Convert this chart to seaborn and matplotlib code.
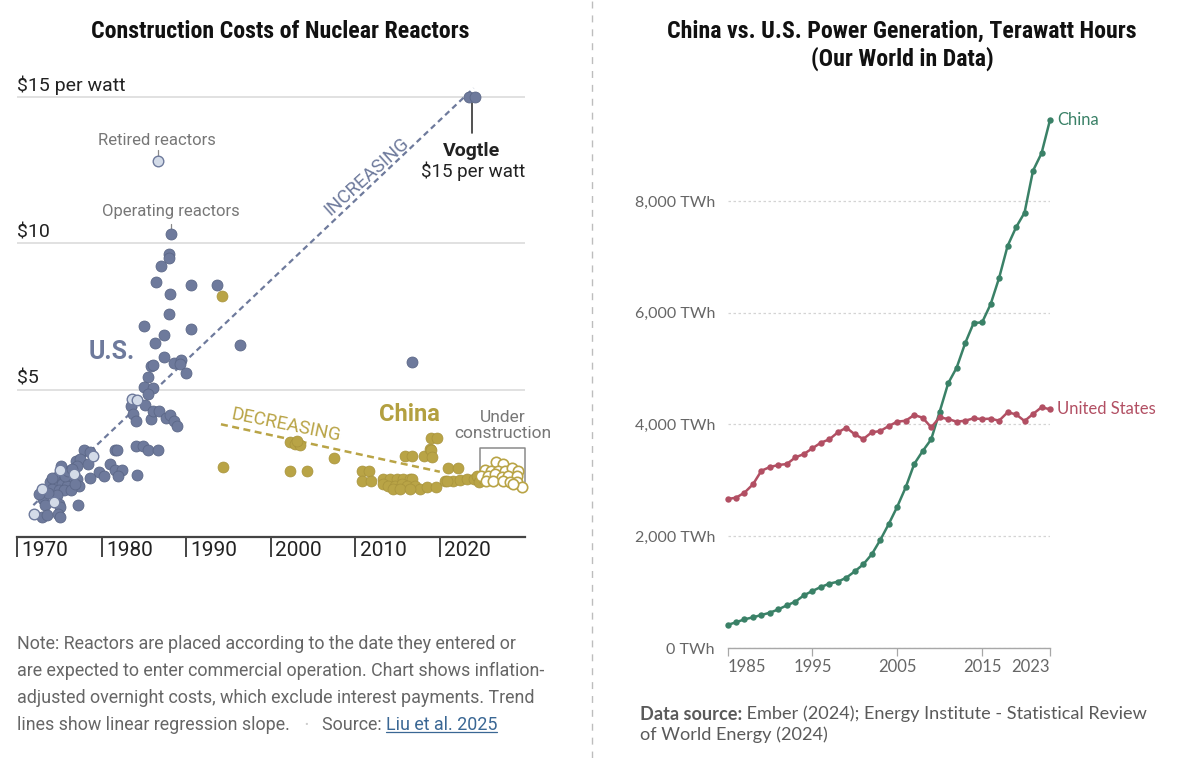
import matplotlib
matplotlib.use("Agg")
import matplotlib.pyplot as plt
import matplotlib.transforms as mtransforms
from matplotlib.lines import Line2D
import numpy as np
import pandas as pd
import seaborn as sns

# ---------------- data: left chart (construction cost, $ per watt) ----------------
us_operating_year = [1988.2, 1987.9, 1987.9, 1987.0, 1986.4, 1990.6, 1993.6, 1988.1, 1987.9, 1985.0,
                     1990.6, 1987.4, 1986.3, 1996.3, 1987.4, 1988.6, 1989.4, 1989.2, 1990.0, 1985.8,
                     1986.1, 1985.5, 1985.0, 1986.1, 1985.5, 2016.7,
                     1983.4, 1985.1, 1983.7, 1984.1, 1985.8, 1986.1, 1986.8, 1987.6, 1988.1, 1988.6,
                     1988.9, 1977.9, 1978.6, 1981.6, 1981.8, 1984.0, 1984.9, 1985.5, 1986.6, 1976.9,
                     1977.4, 1978.4, 1977.1, 1981.0, 1981.6, 1982.4, 1979.7, 1980.3, 1981.9, 1984.2,
                     1978.6, 1974.7, 1975.5, 1975.9, 1976.3, 1973.9, 1974.5, 1975.3, 1975.9, 1977.1,
                     1977.3, 1974.1, 1974.9, 1975.5, 1976.3, 1974.7, 1973.1, 1973.3, 1974.9, 1975.1,
                     1977.2, 1972.9, 1973.5, 1974.8, 1975.0, 1975.6, 1976.0, 1976.5, 1973.6, 1974.1,
                     1976.8, 1975.2, 1972.6, 2023.5, 2024.2]
us_operating_cost = [10.33, 9.65, 9.50, 9.23, 8.68, 8.59, 8.59, 8.27, 7.61, 7.20,
                     7.08, 6.86, 6.62, 6.52, 6.14, 5.93, 6.04, 5.89, 5.57, 5.81,
                     5.85, 5.46, 5.10, 5.08, 4.87, 5.97,
                     4.47, 4.49, 4.19, 3.94, 4.02, 4.30, 4.30, 4.04, 4.13, 3.94,
                     3.76, 2.96, 2.88, 2.96, 2.94, 3.08, 3.08, 2.96, 2.96, 2.59,
                     2.65, 2.46, 2.42, 2.46, 2.28, 2.28, 2.19, 2.08, 2.05, 2.11,
                     2.00, 2.02, 1.97, 1.91, 1.91, 1.85, 1.74, 1.80, 1.74, 1.97,
                     1.74, 1.63, 1.57, 1.57, 1.57, 1.40, 1.29, 1.06, 1.12, 1.00,
                     1.09, 0.68, 0.72, 0.77, 0.68, 2.08, 2.25, 2.32, 1.47, 1.98,
                     1.80, 2.40, 1.45, 15.0, 15.0]
us_retired_year = [1986.6, 1983.6, 1984.2, 1979.0, 1975.1, 1976.7, 1972.9, 1974.3, 1972.0]
us_retired_cost = [12.83, 4.70, 4.67, 2.76, 2.28, 2.14, 1.63, 1.17, 0.77]

china_operating_year = [1994.2, 1994.3, 2002.3, 2002.9, 2003.5, 2003.1, 2002.3, 2004.3, 2007.5, 2010.8,
                        2011.6, 2010.8, 2011.9, 2015.9, 2016.7, 2018.1, 2018.8, 2018.9, 2019.1, 2018.9,
                        2019.7, 2021.0, 2022.2,
                        2013.3, 2014.1, 2014.9, 2015.7, 2016.5, 2016.7,
                        2013.3, 2013.9, 2014.7, 2015.5, 2016.1, 2017.1,
                        2017.7, 2018.5, 2019.6, 2014.5, 2015.3, 2016.5,
                        2020.6, 2021.6, 2022.4, 2023.2, 2024.0, 2024.4, 2024.6, 2025.2, 2020.8]
china_operating_cost = [8.21, 2.37, 3.22, 3.16, 3.11, 3.25, 2.23, 2.23, 2.69, 2.25,
                        2.25, 1.89, 1.89, 2.74, 2.74, 2.76, 2.99, 2.94, 2.73, 3.37,
                        3.37, 2.34, 2.34,
                        1.97, 1.97, 1.97, 1.97, 1.97, 1.97,
                        1.80, 1.74, 1.74, 1.80, 1.74, 1.74,
                        1.63, 1.68, 1.69, 1.63, 1.63, 1.63,
                        1.91, 1.91, 1.94, 1.97, 1.95, 2.08, 1.85, 1.97, 1.91]
china_construction_year = [2026.7, 2027.5, 2025.3, 2026.1, 2026.9, 2027.7, 2028.6, 2029.3, 2024.9, 2025.7,
                           2026.5, 2027.3, 2028.1, 2029.1, 2025.5, 2026.3, 2027.5, 2028.3, 2029.1, 2029.7,
                           2028.7]
china_construction_cost = [2.54, 2.48, 2.28, 2.25, 2.25, 2.25, 2.33, 2.25, 2.08, 2.08,
                           2.14, 2.03, 2.08, 2.08, 1.91, 1.88, 1.91, 1.85, 1.85, 1.68,
                           1.80]
us_trend_year = [1971.9, 2024.0]
us_trend_cost = [1.07, 15.30]
china_trend_year = [1994.1, 2020.0]
china_trend_cost = [3.83, 2.21]
cost_ticks = [5, 10, 15]
cost_tick_labels = ["$5", "$10", "$15 per watt"]
decade_ticks = [1970, 1980, 1990, 2000, 2010, 2020]
decade_labels = ["1970", "1980", "1990", "2000", "2010", "2020"]

# ---------------- data: right chart (generation, TWh) ----------------
gen_years = list(range(1985, 2024))
china_twh = [412, 460, 513, 549, 591, 632, 692, 764, 829, 943, 1020, 1092, 1151, 1187, 1258,
             1372, 1497, 1677, 1933, 2219, 2529, 2876, 3293, 3525, 3734, 4229, 4737, 5016, 5453,
             5816, 5828, 6151, 6621, 7194, 7529, 7791, 8542, 8853, 9449]
us_twh = [2666, 2690, 2780, 2929, 3173, 3239, 3275, 3293, 3412, 3471, 3574, 3674, 3734, 3860, 3943,
          3824, 3740, 3860, 3883, 3973, 4050, 4068, 4170, 4121, 3949, 4128, 4098, 4050, 4068,
          4110, 4098, 4104, 4068, 4218, 4182, 4062, 4188, 4308, 4272]
gen_ticks = [0, 2000, 4000, 6000, 8000]
gen_tick_labels = ["0 TWh", "2,000 TWh", "4,000 TWh", "6,000 TWh", "8,000 TWh"]
year_ticks = [1985, 1995, 2005, 2015, 2023]
year_tick_labels = ["1985", "1995", "2005", "2015", "2023"]

# ---------------- styling ----------------
US_C = "#6e7a9c"
US_EDGE = "#5c6888"
US_RET = "#d3dbe8"
CN_C = "#b9a446"
CN_EDGE = "#a8933c"
GREEN = "#3a8167"
RED = "#b24f63"
NYT = ["Roboto", "DejaVu Sans"]
OWID = ["Lato", "DejaVu Sans"]
TITLE = ["Liberation Sans Narrow", "Roboto Condensed", "Roboto", "DejaVu Sans"]

sns.set_theme(style="white")
plt.rcParams["font.family"] = NYT

W, H = 1180, 758
fig = plt.figure(figsize=(W / 100, H / 100), dpi=100)


def px_rect(x0, x1, ytop, ybot):
    return [x0 / W, 1 - ybot / H, (x1 - x0) / W, (ybot - ytop) / H]


# ======================= LEFT CHART =======================
ax1 = fig.add_axes(px_rect(17.3, 525, 79.4, 536.5))
ax1.set_xlim(1970, 2030.08)
ax1.set_ylim(0, 15.6)
for s in ["top", "right", "left"]:
    ax1.spines[s].set_visible(False)
ax1.spines["bottom"].set_color("#444")
ax1.spines["bottom"].set_linewidth(1.6)
ax1.set_yticks(cost_ticks)
ax1.set_yticklabels([])
ax1.tick_params(axis="y", length=0)
ax1.yaxis.grid(True, color="#dedede", lw=1.3)
ax1.set_axisbelow(True)

ax1.set_xticks(decade_ticks)
ax1.set_xticklabels(decade_labels)
ax1.tick_params(axis="x", bottom=True, direction="out", length=14.4, width=1.4, color="#444",
                pad=-11.3, labelsize=15, labelcolor="#222")
off = mtransforms.ScaledTranslation(4.5 / 100, 0, fig.dpi_scale_trans)
for lab in ax1.get_xticklabels():
    lab.set_horizontalalignment("left")
    lab.set_transform(lab.get_transform() + off)

ytrans = mtransforms.blended_transform_factory(ax1.transAxes, ax1.transData)
for v, lab in zip(cost_ticks, cost_tick_labels):
    ax1.annotate(lab, xy=(0, v), xycoords=ytrans, xytext=(0, 4.5), textcoords="offset points",
                 ha="left", va="baseline", fontsize=14, color="#222")

# trend lines
ax1.plot(us_trend_year, us_trend_cost, color=US_C, lw=1.6, ls=(0, (2.6, 1.8)), zorder=2)
ax1.plot(china_trend_year, china_trend_cost, color=CN_C, lw=1.8, ls=(0, (2.8, 1.8)), zorder=2)

# scatter groups
sns.scatterplot(x=us_operating_year, y=us_operating_cost, ax=ax1, s=62, color=US_C,
                edgecolor=US_EDGE, linewidth=0.6, zorder=3, clip_on=False, legend=False)
sns.scatterplot(x=us_retired_year, y=us_retired_cost, ax=ax1, s=58, color=US_RET,
                edgecolor=US_C, linewidth=1.0, zorder=4, clip_on=False, legend=False)
sns.scatterplot(x=china_operating_year, y=china_operating_cost, ax=ax1, s=62, color=CN_C,
                edgecolor=CN_EDGE, linewidth=0.5, zorder=3, clip_on=False, legend=False)
sns.scatterplot(x=china_construction_year, y=china_construction_cost, ax=ax1, s=56, color="white",
                edgecolor=CN_C, linewidth=1.2, zorder=4, clip_on=False, legend=False)

# under construction bracket
bx0, bx1, by0, by1 = 2024.8, 2030.1, 1.87, 3.03
ax1.plot([bx0, bx0, bx1, bx1], [by0, by1, by1, by0], color="#8a8a8a", lw=1.1, zorder=2,
         clip_on=False)

# annotations
ax1.text(1981.2, 6.29, "U.S.", color=US_C, fontsize=18, fontweight="bold", ha="center", va="center")
ax1.text(2016.4, 4.18, "China", color="#b3a040", fontsize=17, fontweight="bold", ha="center",
         va="center")
ax1.text(2027.4, 3.79, "Under\nconstruction", color="#777", fontsize=12.5, ha="center",
         va="center", linespacing=1.05, clip_on=False)
ax1.text(1986.5, 13.53, "Retired reactors", color="#777", fontsize=12, ha="center", va="center")
ax1.plot([1986.6, 1986.6], [13.19, 12.98], color="#888", lw=0.9)
ax1.text(1988.2, 11.08, "Operating reactors", color="#777", fontsize=12, ha="center", va="center")
ax1.plot([1988.2, 1988.2], [10.68, 10.50], color="#888", lw=0.9)
ax1.plot([2023.85, 2023.85], [14.80, 13.77], color="#333", lw=1.2)
ax1.text(2023.8, 13.15, "Vogtle", color="#222", fontsize=14, fontweight="bold", ha="center",
         va="center", clip_on=False)
ax1.text(2023.9, 12.45, "$15 per watt", color="#222", fontsize=13.5, ha="center", va="center",
         clip_on=False)
ax1.text(2011.4, 12.30, "INCREASING", color=US_C, fontsize=13.5, rotation=42, ha="center",
         va="center", rotation_mode="anchor")
ax1.text(2001.8, 3.79, "DECREASING", color=CN_C, fontsize=13.5, rotation=-11.5, ha="center",
         va="center", rotation_mode="anchor")

# ======================= RIGHT CHART =======================
ax2 = fig.add_axes(px_rect(727.5, 1050, 106, 648))
gen = pd.DataFrame({
    "year": gen_years * 2,
    "twh": china_twh + us_twh,
    "country": ["China"] * len(gen_years) + ["United States"] * len(gen_years),
})
sns.lineplot(data=gen, x="year", y="twh", hue="country",
             palette={"China": GREEN, "United States": RED}, marker="o", markersize=4.6,
             markeredgewidth=0, linewidth=1.8, legend=False, ax=ax2, clip_on=False)
ax2.set_xlim(1985, 2023)
ax2.set_ylim(0, 9700)
ax2.set_xlabel("")
ax2.set_ylabel("")
for s in ["top", "right", "left"]:
    ax2.spines[s].set_visible(False)
ax2.spines["bottom"].set_color("#a8a8a8")
ax2.spines["bottom"].set_linewidth(1.0)
ax2.set_yticks(gen_ticks)
ax2.set_yticklabels(gen_tick_labels, fontfamily=OWID)
ax2.tick_params(axis="y", length=0, pad=9, labelsize=11.5, labelcolor="#666")
ax2.yaxis.grid(True, color="#d4d4d4", lw=0.9, ls=(0, (2, 2)))
ax2.set_axisbelow(True)
ax2.set_xticks(year_ticks)
ax2.set_xticklabels(year_tick_labels, fontfamily=OWID)
ax2.tick_params(axis="x", bottom=True, direction="out", length=5.5, width=0.9, color="#a8a8a8",
                pad=2.5, labelsize=12, labelcolor="#666")
xl = ax2.get_xticklabels()
xl[0].set_horizontalalignment("left")
xl[-1].set_horizontalalignment("right")

ax2.annotate("China", xy=(gen_years[-1], china_twh[-1]), xytext=(5, 0), textcoords="offset points",
             va="center", ha="left", color=GREEN, fontsize=12, fontfamily=OWID,
             annotation_clip=False)
ax2.annotate("United States", xy=(gen_years[-1], us_twh[-1]), xytext=(5, 0),
             textcoords="offset points", va="center", ha="left", color=RED, fontsize=12,
             fontfamily=OWID, annotation_clip=False)

# ======================= TITLES / NOTES =======================
fig.text(280 / W, 1 - 31 / H, "Construction Costs of Nuclear Reactors", ha="center", va="center",
         fontsize=17.2, fontweight="bold", family=TITLE, color="#111")
fig.text(902 / W, 1 - 31 / H, "China vs. U.S. Power Generation, Terawatt Hours", ha="center",
         va="center", fontsize=17.2, fontweight="bold", family=TITLE, color="#111")
fig.text(902 / W, 1 - 59 / H, "(Our World in Data)", ha="center", va="center", fontsize=17.2,
         fontweight="bold", family=TITLE, color="#111")

fig.add_artist(Line2D([592 / W, 592 / W], [0, 1], transform=fig.transFigure, color="#bdbdbd",
                      lw=1.0, ls=(0, (5, 5))))

NOTE_FS = 12.9
note_lines = ["Note: Reactors are placed according to the date they entered or",
              "are expected to enter commercial operation. Chart shows inflation-",
              "adjusted overnight costs, which exclude interest payments. Trend"]
for i, line in enumerate(note_lines):
    fig.text(17 / W, 1 - (644 + 27 * i) / H, line, ha="left", va="center", fontsize=NOTE_FS,
             color="#666")
t4 = fig.text(17 / W, 1 - 725 / H, "lines show linear regression slope.", ha="left", va="center",
              fontsize=NOTE_FS, color="#666")
dot = ax1.annotate("•", xy=(1, 0.5), xycoords=t4, xytext=(10, 0), textcoords="offset points",
                   ha="left", va="center", fontsize=8, color="#cccccc", annotation_clip=False)
src = ax1.annotate("Source: ", xy=(1, 0.5), xycoords=t4, xytext=(23, 0), textcoords="offset points",
                   ha="left", va="center", fontsize=NOTE_FS, color="#666", annotation_clip=False)
liu = ax1.annotate("Liu et al. 2025", xy=(1, 0.5), xycoords=src, xytext=(0, 0),
                   textcoords="offset points", ha="left", va="center", fontsize=NOTE_FS,
                   color="#3a6794", annotation_clip=False)

DS_FS = 13.1
ds = fig.text(640 / W, 1 - 714 / H, "Data source:", ha="left", va="center", fontsize=DS_FS,
              fontweight="bold", family=OWID, color="#5a5a5a")
ax2.annotate(" Ember (2024); Energy Institute - Statistical Review", xy=(1, 0.5), xycoords=ds,
             ha="left", va="center", fontsize=DS_FS, family=OWID, color="#5a5a5a",
             annotation_clip=False)
fig.text(640 / W, 1 - 735 / H, "of World Energy (2024)", ha="left", va="center", fontsize=DS_FS,
         family=OWID, color="#5a5a5a")

# underline for the source link
fig.canvas.draw()
bb = liu.get_window_extent(fig.canvas.get_renderer())
fig.add_artist(Line2D([bb.x0 / W, bb.x1 / W], [(bb.y0 + 2.5) / H] * 2, transform=fig.transFigure,
                      color="#3a6794", lw=0.9))

fig.savefig("out.png", dpi=100, facecolor="white")
